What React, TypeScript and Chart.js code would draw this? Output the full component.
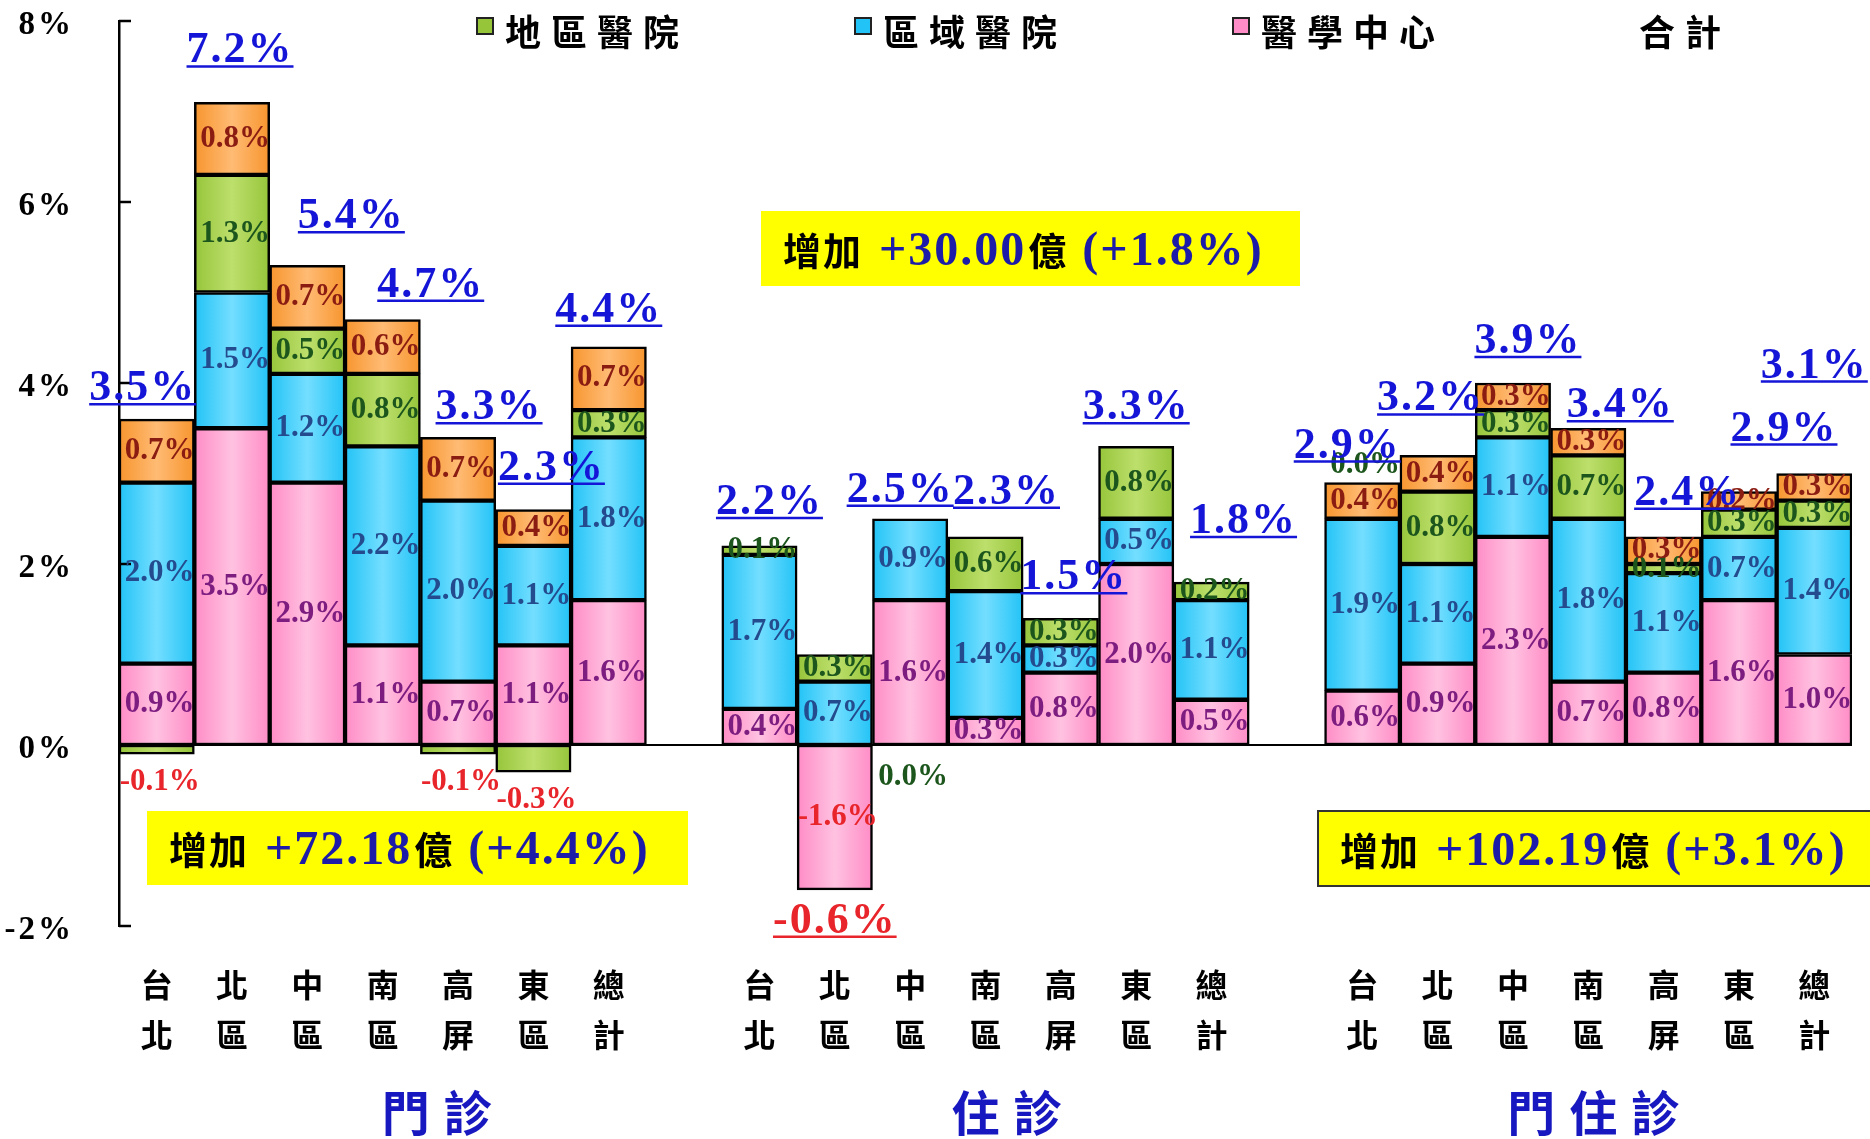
import { useEffect, useRef } from "react";
import { Chart, registerables } from "chart.js";

Chart.register(...registerables);

// ---------------- data ----------------
const REGIONS = ["台北", "北區", "中區", "南區", "高屏", "東區", "總計"];
const GROUPS = ["門診", "住診", "門住診"];
const CATEGORIES: string[][] = GROUPS.flatMap((_, g) => {
  const cols = REGIONS.map((r) => r.split(""));
  return g < GROUPS.length - 1 ? [...cols, [""]] : cols;
});

// growth rate contribution (%), null = gap column / series absent
const MEDICAL_CENTER = [0.9, 3.5, 2.9, 1.1, 0.7, 1.1, 1.6, null, 0.4, -1.6, 1.6, 0.3, 0.8, 2.0, 0.5, null, 0.6, 0.9, 2.3, 0.7, 0.8, 1.6, 1.0];
const REGIONAL = [2.0, 1.5, 1.2, 2.2, 2.0, 1.1, 1.8, null, 1.7, 0.7, 0.9, 1.4, 0.3, 0.5, 1.1, null, 1.9, 1.1, 1.1, 1.8, 1.1, 0.7, 1.4];
const DISTRICT = [-0.1, 1.3, 0.5, 0.8, -0.1, -0.3, 0.3, null, 0.1, 0.3, 0.0, 0.6, 0.3, 0.8, 0.2, null, 0.0, 0.8, 0.3, 0.7, 0.1, 0.3, 0.3];
const CLINIC = [0.7, 0.8, 0.7, 0.6, 0.7, 0.4, 0.7, null, null, null, null, null, null, null, null, null, 0.4, 0.4, 0.3, 0.3, 0.3, 0.2, 0.3];
const TOTAL = [3.5, 7.2, 5.4, 4.7, 3.3, 2.3, 4.4, null, 2.2, -0.6, 2.5, 2.3, 1.5, 3.3, 1.8, null, 2.9, 3.2, 3.9, 3.4, 2.4, 2.9, 3.1];

const SERIES_LABELS = ["醫學中心", "區域醫院", "地區醫院", "基層院所"];
const TOTAL_LABEL = "合計";
const LEGEND_ORDER = [2, 1, 0]; // 地區醫院, 區域醫院, 醫學中心, then 合計

const Y_MIN = -2;
const Y_MAX = 8;
const Y_STEP = 2;

const SUMMARY_PREFIX = "增加";
const SUMMARY_UNIT = "億";
const SUMMARY_AMOUNTS = ["+72.18", "+30.00", "+102.19"];
const SUMMARY_PCTS = ["+4.4%", "+1.8%", "+3.1%"];

// ---------------- styles / layout ----------------
const CJK = '"Noto Sans CJK TC", "Noto Sans CJK SC", sans-serif';
const SERIF = '"Liberation Serif", "Times New Roman", serif';
const FILL_EDGE = ["#ff8cc6", "#22c3f6", "#96c53a", "#f7952e"];
const FILL_MID = ["#ffc2e1", "#74deff", "#bddf6c", "#ffbb74"];
const LABEL_COLORS = ["#7d1d80", "#234b8e", "#1d561d", "#8a1c12"];
const NEG_COLOR = "#e8252b";
const TOTAL_BLUE = "#1515d8";
const GROUP_BLUE = "#1818c0";
const SUMMARY_BLUE = "#1c1ca8";

// manual label nudges [dx, dy] (px) relative to the default spot above each stack
const TOTAL_LABEL_NUDGE: [number, number][] = [
  [-14, 6], [8, -15], [44, -12], [48, 2], [31, 7], [18, -5], [0, 0],
  [0, 0],
  [10, -7], [0, 0], [-10, 8], [21, -8], [13, -4], [0, -2], [32, -24],
  [0, 0],
  [-15, 0], [-7, -20], [15, -5], [32, 14], [24, -7], [45, -26], [0, -71],
];
const GROUP_LABEL_SHIFT = [54, 21, 5];
const SUMMARY_BOXES = [
  { x: 147, y: 811, w: 541, h: 74, border: false },
  { x: 761, y: 211, w: 539, h: 75, border: false },
  { x: 1318, y: 811, w: 570, h: 75, border: true },
];

const SERIES = [MEDICAL_CENTER, REGIONAL, DISTRICT, CLINIC];

const overlay = {
  id: "overlay",
  beforeDatasetsDraw(chart: any) {
    const { ctx, chartArea, scales } = chart;
    const ys = scales.y;
    const y0 = ys.getPixelForValue(0);
    ctx.save();
    ctx.strokeStyle = "#000";
    ctx.lineWidth = 2;
    ctx.beginPath();
    ctx.moveTo(chartArea.left, y0);
    ctx.lineTo(chartArea.right, y0);
    ctx.stroke();
    // y tick labels (drawn from the scale's own ticks)
    ctx.fillStyle = "#000";
    ctx.font = `bold 33px ${SERIF}`;
    (ctx as any).letterSpacing = "3px";
    ctx.textAlign = "right";
    ctx.textBaseline = "middle";
    ys.ticks.forEach((t: any) => {
      ctx.fillText(t.value + "%", chartArea.left - 45, ys.getPixelForValue(t.value) + 4);
    });
    ctx.restore();
    chart.data.datasets.forEach((_: any, di: number) => {
      const meta = chart.getDatasetMeta(di);
      meta.data.forEach((el: any) => {
        const p = el.getProps(["x", "width"], true);
        if (!Number.isFinite(p.x) || !Number.isFinite(p.width)) return;
        const g = ctx.createLinearGradient(p.x - p.width / 2, 0, p.x + p.width / 2, 0);
        g.addColorStop(0, FILL_EDGE[di]);
        g.addColorStop(0.5, FILL_MID[di]);
        g.addColorStop(1, FILL_EDGE[di]);
        el.options = { ...el.options, backgroundColor: g };
      });
    });
  },
  afterDatasetsDraw(chart: any) {
    const { ctx, chartArea, scales } = chart;
    const xs = scales.x;
    const ys = scales.y;
    ctx.save();
    // inward y ticks
    ctx.strokeStyle = "#000";
    ctx.lineWidth = 2.5;
    ys.ticks.forEach((t: any) => {
      const py = ys.getPixelForValue(t.value);
      ctx.beginPath();
      ctx.moveTo(chartArea.left, py);
      ctx.lineTo(chartArea.left + 12, py);
      ctx.stroke();
    });
    // segment labels
    ctx.font = `bold 31px ${SERIF}`;
    ctx.textAlign = "center";
    ctx.textBaseline = "middle";
    const posSum = CATEGORIES.map((_, j) => SERIES.reduce((s, a) => s + (a[j] != null && (a[j] as number) > 0 ? (a[j] as number) : 0), 0));
    const negSum = CATEGORIES.map((_, j) => SERIES.reduce((s, a) => s + (a[j] != null && (a[j] as number) < 0 ? (a[j] as number) : 0), 0));
    SERIES.forEach((arr, di) => {
      const meta = chart.getDatasetMeta(di);
      arr.forEach((v, j) => {
        if (v == null) return;
        const el = meta.data[j];
        const p = el.getProps(["x", "y", "base"], true);
        let ly: number;
        if (v < 0 && Math.abs(v) < 0.5) {
          ly = Math.max(p.y, p.base) + 28;
        } else if (v === 0) {
          const above = SERIES.slice(di + 1).some((a) => a[j] != null && a[j] !== 0);
          ly = above ? ys.getPixelForValue(posSum[j]) - 18 : ys.getPixelForValue(0) + 32;
        } else {
          ly = (p.y + p.base) / 2;
        }
        ctx.fillStyle = v < 0 ? NEG_COLOR : LABEL_COLORS[di];
        ctx.fillText(v.toFixed(1) + "%", p.x + 3, ly);
      });
    });
    // total labels (underlined)
    ctx.font = `bold 44px ${SERIF}`;
    ctx.textBaseline = "alphabetic";
    (ctx as any).letterSpacing = "2px";
    TOTAL.forEach((t, j) => {
      if (t == null) return;
      const [dx, dy] = TOTAL_LABEL_NUDGE[j] || [0, 0];
      const cx = xs.getPixelForValue(j) + dx;
      let base: number;
      let color: string;
      if (t >= 0) {
        base = ys.getPixelForValue(posSum[j]) - 25 + dy;
        color = TOTAL_BLUE;
      } else {
        base = ys.getPixelForValue(negSum[j]) + 43 + dy;
        color = NEG_COLOR;
      }
      const txt = t.toFixed(1) + "%";
      const w = ctx.measureText(txt).width;
      ctx.fillStyle = color;
      ctx.textAlign = "left";
      ctx.fillText(txt, cx - w / 2, base);
      ctx.strokeStyle = color;
      ctx.lineWidth = 2.5;
      ctx.beginPath();
      ctx.moveTo(cx - w / 2, base + 4);
      ctx.lineTo(cx + w / 2, base + 4);
      ctx.stroke();
    });
    ctx.restore();
  },
  afterDraw(chart: any) {
    const { ctx, chartArea, scales } = chart;
    const xs = scales.x;
    ctx.save();
    // legend
    const legendY = 32;
    const legendX0 = chartArea.left + 358;
    const legendStep = 378;
    const items = [
      ...LEGEND_ORDER.map((di) => ({ label: chart.data.datasets[di].label, color: FILL_EDGE[di] })),
      { label: TOTAL_LABEL, color: null as string | null },
    ];
    items.forEach((it, i) => {
      const x = legendX0 + i * legendStep;
      if (it.color) {
        ctx.fillStyle = it.color;
        ctx.fillRect(x, legendY - 14, 16, 16);
        ctx.strokeStyle = "#222";
        ctx.lineWidth = 2;
        ctx.strokeRect(x, legendY - 14, 16, 16);
      }
      ctx.fillStyle = "#000";
      ctx.font = `bold 36px ${CJK}`;
      (ctx as any).letterSpacing = "10px";
      ctx.textAlign = "left";
      ctx.textBaseline = "middle";
      ctx.fillText(it.label, x + 28, legendY);
    });
    // group labels
    ctx.font = `bold 48px ${CJK}`;
    (ctx as any).letterSpacing = "14px";
    ctx.fillStyle = GROUP_BLUE;
    ctx.textBaseline = "middle";
    GROUPS.forEach((g, gi) => {
      const first = gi * (REGIONS.length + 1);
      const cx = (xs.getPixelForValue(first) + xs.getPixelForValue(first + REGIONS.length - 1)) / 2 + GROUP_LABEL_SHIFT[gi];
      const w = ctx.measureText(g).width - 14;
      ctx.fillText(g, cx - w / 2, chartArea.bottom + 187);
    });
    // summary boxes
    SUMMARY_BOXES.forEach((b, i) => {
      (ctx as any).letterSpacing = "0px";
      ctx.fillStyle = "#ffff00";
      ctx.fillRect(b.x, b.y, b.w, b.h);
      if (b.border) {
        ctx.strokeStyle = "#333";
        ctx.lineWidth = 2;
        ctx.strokeRect(b.x, b.y, b.w, b.h);
      }
      const base = b.y + b.h / 2 + 16;
      let x = b.x + 22;
      const parts: [string, string, string, string][] = [
        [SUMMARY_PREFIX, `bold 38px ${CJK}`, "#000", "2px"],
        [" " + SUMMARY_AMOUNTS[i], `bold 48px ${SERIF}`, SUMMARY_BLUE, "2px"],
        [SUMMARY_UNIT, `bold 38px ${CJK}`, "#000", "0px"],
        [" (" + SUMMARY_PCTS[i] + ")", `bold 48px ${SERIF}`, SUMMARY_BLUE, "2px"],
      ];
      ctx.textAlign = "left";
      ctx.textBaseline = "alphabetic";
      parts.forEach(([t, f, c, ls]) => {
        ctx.font = f;
        (ctx as any).letterSpacing = ls;
        ctx.fillStyle = c;
        ctx.fillText(t, x, base);
        x += ctx.measureText(t).width + 2;
      });
    });
    ctx.restore();
  },
};

export default function App() {
  const ref = useRef<HTMLCanvasElement>(null);
  useEffect(() => {
    document.body.style.margin = "0";
    const canvas = ref.current!;
    const chart = new Chart(canvas, {
      type: "bar",
      data: {
        labels: CATEGORIES as any,
        datasets: SERIES.map((arr, di) => ({
          label: SERIES_LABELS[di],
          data: arr as any,
          backgroundColor: FILL_EDGE[di],
          borderColor: "#000",
          borderWidth: 2.5,
          borderSkipped: false,
          barPercentage: 1,
          categoryPercentage: 1,
        })),
      },
      options: {
        animation: false,
        responsive: false,
        maintainAspectRatio: false,
        events: [],
        layout: { padding: { top: 21, right: 18, left: 0, bottom: 0 } },
        plugins: { legend: { display: false }, tooltip: { enabled: false } },
        scales: {
          x: {
            stacked: true,
            grid: { display: false, drawTicks: false },
            border: { display: false },
            ticks: {
              autoSkip: false,
              maxRotation: 0,
              minRotation: 0,
              padding: 34,
              color: "#000",
              font: { family: CJK, size: 32, weight: "bold", lineHeight: 1.55 },
            },
            afterFit: (s: any) => {
              s.height = 213;
            },
          },
          y: {
            stacked: true,
            min: Y_MIN,
            max: Y_MAX,
            ticks: {
              display: false,
              stepSize: Y_STEP,
            },
            grid: { display: false, drawTicks: false },
            border: { display: true, color: "#000", width: 2.5 },
            afterFit: (s: any) => {
              s.width = 119;
            },
          },
        },
      } as any,
      plugins: [overlay],
    });
    return () => chart.destroy();
  }, []);
  return (
    <div style={{ position: "relative", width: 1870, height: 1139, background: "#fff" }}>
      <canvas ref={ref} width={1870} height={1139} style={{ display: "block", width: 1870, height: 1139 }} />
    </div>
  );
}
